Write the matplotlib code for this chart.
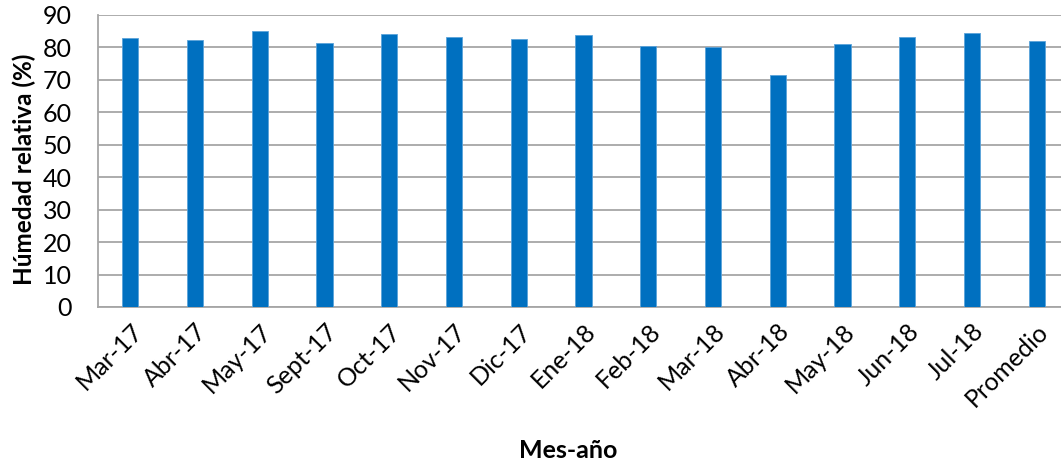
import matplotlib
matplotlib.use("Agg")
import matplotlib.pyplot as plt
import numpy as np

categories = ["Mar-17", "Abr-17", "May-17", "Sept-17", "Oct-17", "Nov-17", "Dic-17",
              "Ene-18", "Feb-18", "Mar-18", "Abr-18", "May-18", "Jun-18", "Jul-18", "Promedio"]
humedad = [82.8, 82.4, 85.0, 81.4, 84.0, 83.1, 82.6, 83.8, 80.4, 80.2, 71.4, 81.0, 83.2, 84.4, 81.9]
yticks = [0, 10, 20, 30, 40, 50, 60, 70, 80, 90]

plt.rcParams['font.family'] = ['Lato', 'DejaVu Sans']

fig = plt.figure(figsize=(10.61, 4.63), dpi=100)
ax = fig.add_axes([98/1061, 1-307/463, (1069-98)/1061, (307-15)/463])

x = np.arange(len(categories))
ax.bar(x, humedad, width=0.25, color='#0070C0', edgecolor='#5BA3DA', linewidth=0.6, zorder=3)
ax.set_xlim(-0.5, len(categories)-0.5)
ax.set_ylim(0, 90)
ax.set_yticks(yticks)
ax.yaxis.grid(True, color='#A6A6A6', linewidth=1.3, zorder=0)
ax.set_axisbelow(True)
for s in ['top', 'right']:
    ax.spines[s].set_visible(False)
for s in ['left', 'bottom']:
    ax.spines[s].set_color('#A6A6A6')
    ax.spines[s].set_linewidth(1.3)
ax.tick_params(axis='y', length=0, pad=19, labelsize=18)
ax.tick_params(axis='x', length=0, pad=9, labelsize=18)
ax.set_xticks(x)
ax.set_xticklabels(categories, rotation=45, ha='right', va='top', rotation_mode='anchor')
ax.set_ylabel('Húmedad relativa (%)', fontsize=17.5, fontweight='bold')
ax.yaxis.set_label_coords(-62/971, 0.47)
fig.text(568/1061, 1-451/463, 'Mes-año', fontsize=18, fontweight='bold', ha='center', va='center')

fig.savefig('out.png', dpi=100)
